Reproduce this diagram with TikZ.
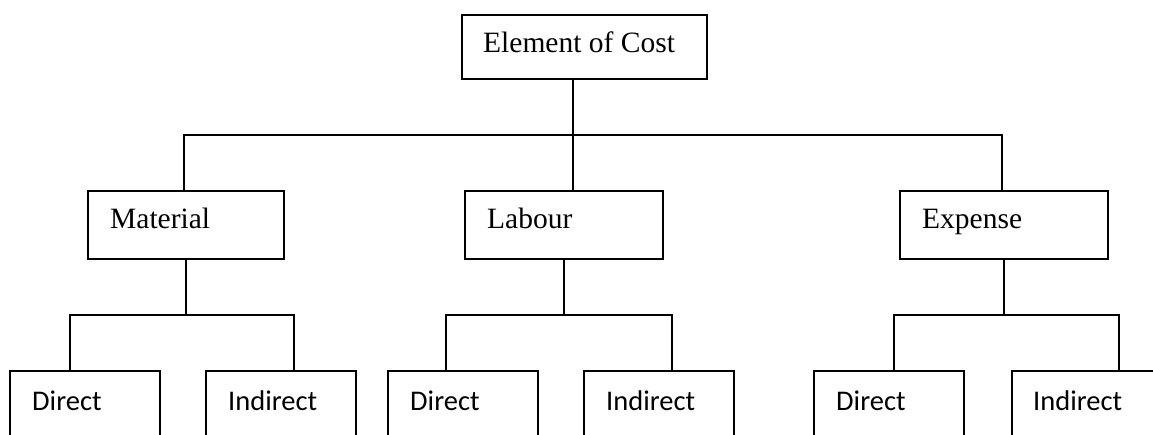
\documentclass[tikz,border=0pt]{standalone}
\usepackage{fontspec}
\newfontfamily\carlito{Carlito}
\newfontfamily\libserif{Liberation Serif}
\tikzset{
  box/.style={draw=black, line width=1.8pt, fill=none, inner sep=0pt, outer sep=0pt},
  link/.style={draw=black, line width=1.8pt},
  serlbl/.style={anchor=base west, inner sep=0pt, font=\libserif\fontsize{29.5}{35}\selectfont},
  sanslbl/.style={anchor=base west, inner sep=0pt, font=\carlito\fontsize{28.5}{34}\selectfont}
}
\begin{document}
\begin{tikzpicture}[x=1pt,y=-1pt]
\useasboundingbox (0,0) rectangle (1153,435);
\clip (0,0) rectangle (1153,435);
% boxes
\node[box, minimum width=245pt, minimum height=64pt] (root) at (584.5,47) {};
\node[box, minimum width=196pt, minimum height=68pt] (mat) at (186,225) {};
\node[box, minimum width=198pt, minimum height=68pt] (lab) at (564,225) {};
\node[box, minimum width=208pt, minimum height=68pt] (exp) at (1004,225) {};
\node[box, minimum width=150pt, minimum height=80pt] (md) at (85,411) {};
\node[box, minimum width=150pt, minimum height=80pt] (mi) at (281,411) {};
\node[box, minimum width=150pt, minimum height=80pt] (ld) at (463,411) {};
\node[box, minimum width=150pt, minimum height=80pt] (li) at (659,411) {};
\node[box, minimum width=150pt, minimum height=80pt] (ed) at (889,411) {};
\node[box, minimum width=150pt, minimum height=80pt] (ei) at (1087,411) {};
% labels
\node[serlbl] (troot) at (483,53) {Element of Cost};
\node[serlbl] (tmat) at (110,229) {Material};
\node[serlbl] (tlab) at (487,229) {Labour};
\node[serlbl] (texp) at (922,229) {Expense};
\node[sanslbl] (tmd) at (32,410) {Direct};
\node[sanslbl] (tmi) at (228,410) {Indirect};
\node[sanslbl] (tld) at (410,410) {Direct};
\node[sanslbl] (tli) at (606,410) {Indirect};
\node[sanslbl] (ted) at (836,410) {Direct};
\node[sanslbl] (tei) at (1033,410) {Indirect};
% junction points
\coordinate (b1) at (184,135);
\coordinate (b2) at (573,135);
\coordinate (b3) at (1002,135);
\coordinate (m1) at (70,315);
\coordinate (m2) at (294,315);
\coordinate (l1) at (446,315);
\coordinate (l2) at (672,315);
\coordinate (e1) at (894,315);
\coordinate (e2) at (1119,315);
% top level
\draw[link] (root.south -| b2) -- (lab.north -| b2);
\draw[link] (mat.north -| b1) |- (b3) -- (exp.north -| b3);
% material
\draw[link] (mat.south) -- (mat.south |- m1);
\draw[link] (md.north -| m1) |- (m2) -- (mi.north -| m2);
% labour
\draw[link] (lab.south) -- (lab.south |- l1);
\draw[link] (ld.north -| l1) |- (l2) -- (li.north -| l2);
% expense
\draw[link] (exp.south) -- (exp.south |- e1);
\draw[link] (ed.north -| e1) |- (e2) -- (ei.north -| e2);
\end{tikzpicture}
\end{document}
